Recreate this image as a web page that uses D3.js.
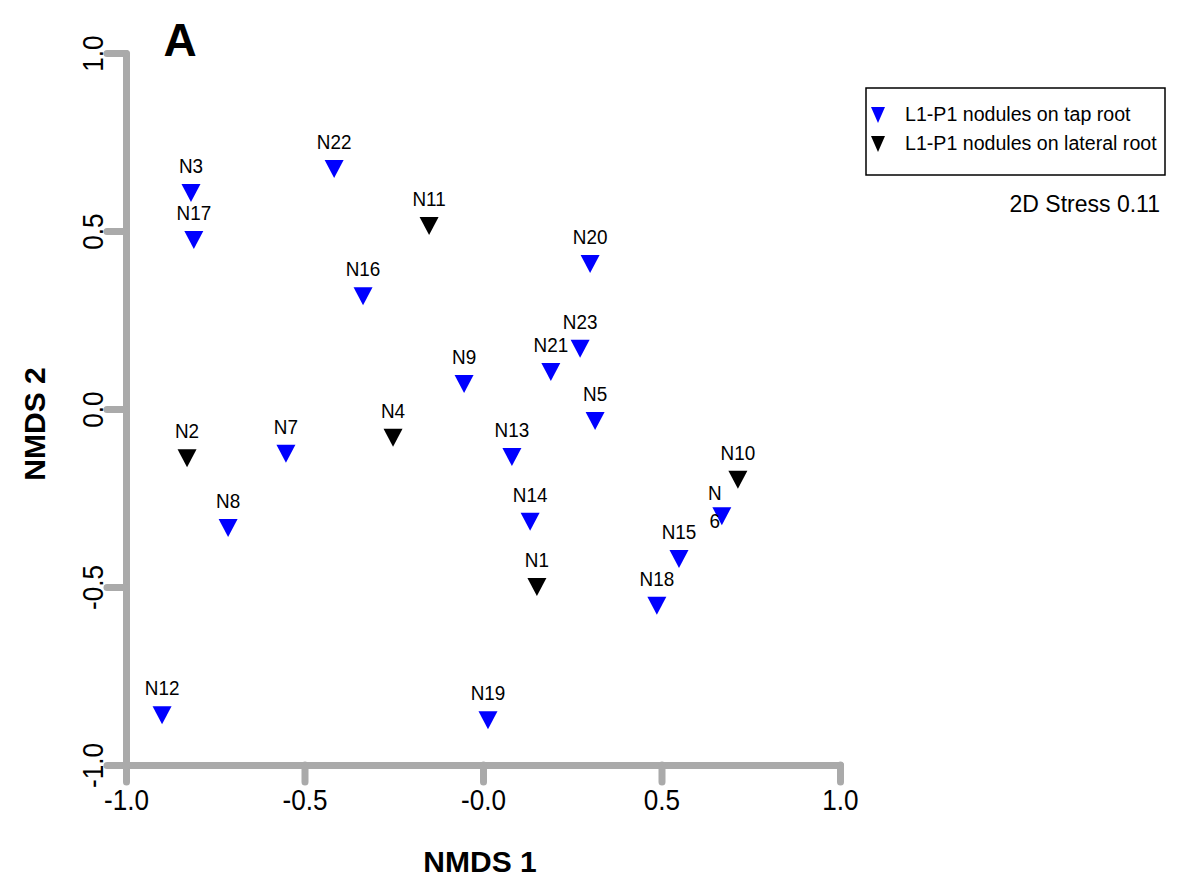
<!DOCTYPE html>
<html>
<head>
<meta charset="utf-8">
<script src="https://cdn.jsdelivr.net/npm/d3@7"></script>
<style>
  body { margin: 0; background: #fff; }
</style>
</head>
<body>
<div id="chart"></div>
<script>
// NMDS scores
const sampleNames = ["N1","N2","N3","N4","N5","N6","N7","N8","N9","N10","N11","N12",
  "N13","N14","N15","N16","N17","N18","N19","N20","N21","N22","N23"];
const nmds1 = [0.151, -0.829, -0.818, -0.252, 0.314, 0.669, -0.552, -0.714, -0.053, 0.714, -0.151, -0.899,
  0.081, 0.132, 0.549, -0.336, -0.810, 0.487, 0.014, 0.300, 0.190, -0.417, 0.272];
const nmds2 = [-0.500, -0.138, 0.607, -0.081, -0.034, -0.301, -0.126, -0.334, 0.070, -0.199, 0.514, -0.860,
  -0.135, -0.317, -0.421, 0.317, 0.475, -0.553, -0.874, 0.407, 0.104, 0.674, 0.169];
const rootType = ["lateral","lateral","tap","lateral","tap","tap","tap","tap","tap","lateral","lateral","tap",
  "tap","tap","tap","tap","tap","tap","tap","tap","tap","tap","tap"];

const groups = ["tap", "lateral"];
const groupLabels = ["L1-P1 nodules on tap root", "L1-P1 nodules on lateral root"];
const groupColors = ["#0000ff", "#000000"];

const xTicks = [-1, -0.5, 0, 0.5, 1];
const xTickLabels = ["-1.0", "-0.5", "-0.0", "0.5", "1.0"];
const yTicks = [-1, -0.5, 0, 0.5, 1];
const yTickLabels = ["-1.0", "-0.5", "0.0", "0.5", "1.0"];
const stressText = "2D Stress 0.11";

function pageLoad() {

  const width = 1197;
  const height = 885;
  const squeeze = 0.9; // the original uses a narrow face

  const svg = d3.select("#chart")
    .append("svg")
      .attr("width", width)
      .attr("height", height)
      .style("font-family", "'Liberation Sans', Arial, sans-serif");

  const x = d3.scaleLinear().domain([-1, 1]).range([126, 840]);
  const y = d3.scaleLinear().domain([-1, 1]).range([765, 53]);
  const color = d3.scaleOrdinal().domain(groups).range(groupColors);

  // down-pointing triangle, width w and height h
  function downTriangle(w, h) {
    return {
      draw(ctx) {
        ctx.moveTo(-w / 2, -h / 2);
        ctx.lineTo(w / 2, -h / 2);
        ctx.lineTo(0, h / 2);
        ctx.closePath();
      }
    };
  }

  // X axis
  const xAxis = svg.append("g")
    .attr("transform", "translate(0," + y(-1) + ")")
    .call(d3.axisBottom(x)
      .tickValues(xTicks)
      .tickSize(17)
      .tickSizeOuter(0)
      .tickFormat((d, i) => xTickLabels[i]));

  // Y axis
  const yAxis = svg.append("g")
    .attr("transform", "translate(" + x(-1) + ",0)")
    .call(d3.axisLeft(y)
      .tickValues(yTicks)
      .tickSize(19)
      .tickSizeOuter(0)
      .tickFormat((d, i) => yTickLabels[i]));

  [xAxis, yAxis].forEach(function (ax) {
    ax.select(".domain")
      .attr("stroke", "#aaaaaa")
      .attr("stroke-width", 7)
      .attr("stroke-linecap", "round")
      .attr("stroke-linejoin", "round");
    ax.selectAll(".tick line")
      .attr("stroke", "#aaaaaa")
      .attr("stroke-width", 7)
      .attr("stroke-linecap", "round");
    ax.selectAll(".tick text")
      .attr("fill", "#000")
      .attr("font-family", "'Liberation Sans', Arial, sans-serif")
      .style("font-size", "29px")
      .attr("x", 0)
      .attr("y", 0)
      .attr("dy", 0)
      .attr("text-anchor", "middle");
  });

  xAxis.selectAll(".tick text")
    .attr("transform", "translate(0,45) scale(" + squeeze + ",1)");

  yAxis.selectAll(".tick text")
    .attr("transform", "translate(-23,0) rotate(-90) scale(" + squeeze + ",1)");

  // Axis titles
  svg.append("text")
    .attr("x", 480)
    .attr("y", 872)
    .attr("text-anchor", "middle")
    .style("font-size", "30px")
    .style("font-weight", "bold")
    .text("NMDS 1");

  svg.append("text")
    .attr("transform", "translate(45,424) rotate(-90)")
    .attr("text-anchor", "middle")
    .style("font-size", "30px")
    .style("font-weight", "bold")
    .text("NMDS 2");

  // Panel letter
  svg.append("text")
    .attr("x", 180)
    .attr("y", 56)
    .attr("text-anchor", "middle")
    .style("font-size", "46px")
    .style("font-weight", "bold")
    .text("A");

  // Points
  const data = sampleNames.map(function (name, i) {
    return { name: name, x: nmds1[i], y: nmds2[i], group: rootType[i] };
  });

  svg.append("g")
    .selectAll("path")
    .data(data)
    .join("path")
      .attr("transform", d => "translate(" + x(d.x) + "," + y(d.y) + ")")
      .attr("d", d3.symbol().type(downTriangle(19, 18)))
      .attr("fill", d => color(d.group));

  // Point labels (N6 is wrapped in the original)
  const labels = svg.append("g")
    .style("font-size", "21px")
    .selectAll("text")
    .data(data)
    .join("text")
      .attr("text-anchor", "middle")
      .attr("transform", d => "translate(" + x(d.x) + "," + (y(d.y) - 20) + ") scale(" + squeeze + ",1)");

  labels.filter(d => d.name !== "N6").text(d => d.name);
  labels.filter(d => d.name === "N6").each(function (d) {
    const parts = [d.name.slice(0, 1), d.name.slice(1)];
    d3.select(this)
      .attr("transform", "translate(" + (x(d.x) - 7) + "," + (y(d.y) - 16) + ") scale(" + squeeze + ",1)")
      .selectAll("tspan")
      .data(parts)
      .join("tspan")
        .attr("x", 0)
        .attr("y", (p, j) => j * 28)
        .text(p => p);
  });

  // Legend
  const legend = svg.append("g");
  legend.append("rect")
    .attr("x", 866)
    .attr("y", 88)
    .attr("width", 299)
    .attr("height", 87)
    .attr("fill", "none")
    .attr("stroke", "#000")
    .attr("stroke-width", 1.5);

  const items = legend.selectAll("g.item")
    .data(groups)
    .join("g")
      .attr("class", "item")
      .attr("transform", (d, i) => "translate(878," + (115 + i * 29) + ")");

  items.append("path")
    .attr("d", d3.symbol().type(downTriangle(14, 16)))
    .attr("fill", d => color(d));

  items.append("text")
    .attr("x", 27)
    .attr("y", 6)
    .style("font-size", "19.6px")
    .text((d, i) => groupLabels[i]);

  svg.append("text")
    .attr("x", 1160)
    .attr("y", 212)
    .attr("text-anchor", "end")
    .style("font-size", "23px")
    .text(stressText);
}

window.addEventListener("load", pageLoad);
</script>
</body>
</html>
